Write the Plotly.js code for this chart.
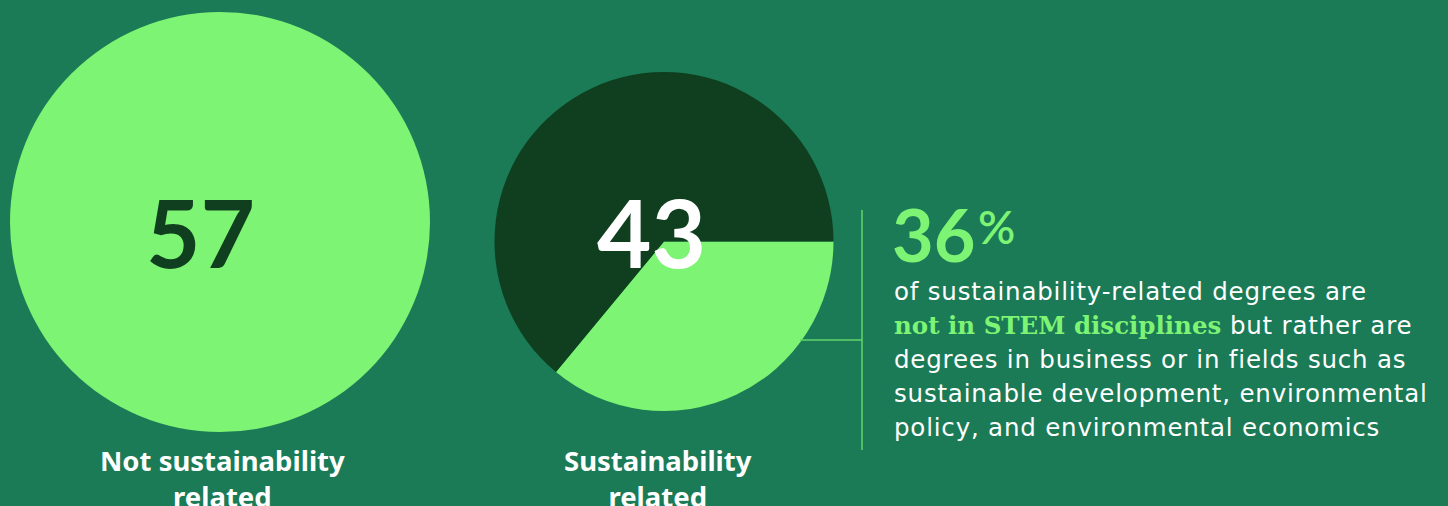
<!DOCTYPE html>
<html>
<head>
<meta charset="utf-8">
<script src="https://cdn.plot.ly/plotly-3.0.1.min.js"></script>
<style>html,body{margin:0;padding:0;background:#1a7b56;}#chart{width:1448px;height:506px;}</style>
</head>
<body>
<div id="chart"></div>
<script>
// ---- data ----
const categories = ["Not sustainability related", "Sustainability related"];
const categoryLabels = [["Not sustainability", "related"], ["Sustainability", "related"]];
const shares = [57, 43];
const splitLabels = ["Not in STEM disciplines", "STEM disciplines"];
const splitValues = [36, 64];
const headline = "36";
const bodyLines = [
  "of sustainability-related degrees are",
  null,
  "degrees in business or in fields such as",
  "sustainable development, environmental",
  "policy, and environmental economics"
];
const highlightText = "not in STEM disciplines";
const highlightRest = " but rather are";

// ---- styles ----
const BG = "#1a7b56", LIGHT = "#7ef474", DARK = "#0f3f1e";
const W = 1448, H = 506;
const px = x => x / W, py = y => 1 - y / H;
const SANS = "Lato, 'Noto Sans', sans-serif";
const BODY = "'DejaVu Sans', sans-serif";
const LABEL = "'Noto Sans', sans-serif";
const SPACED = s => "<span style=\"letter-spacing:0.8px\">" + s + "</span>";

const traces = [
  {
    type: "pie", values: [shares[0]], labels: [categories[0]],
    marker: {colors: [LIGHT], line: {width: 0}},
    textinfo: "none", hoverinfo: "none", sort: false,
    domain: {x: [px(10), px(430)], y: [py(432), py(12)]},
    showlegend: false
  },
  {
    type: "pie", values: splitValues, labels: splitLabels,
    marker: {colors: [LIGHT, DARK], line: {width: 0}},
    textinfo: "none", hoverinfo: "none", sort: false,
    direction: "clockwise", rotation: 90,
    domain: {x: [px(494), px(834)], y: [py(411), py(72)]},
    showlegend: false
  }
];

const ann = [];
ann.push({x: px(200), y: py(231), text: "<b>" + shares[0] + "</b>", font: {family: SANS, size: 94, color: DARK}});
ann.push({x: px(651), y: py(231), text: "<b>" + shares[1] + "</b>", font: {family: SANS, size: 94, color: "#ffffff"}});
const labelX = [222, 658];
categoryLabels.forEach((lines, i) => {
  ann.push({x: px(labelX[i]), y: py(478), text: "<b>" + lines.join("<br>") + "</b>", font: {family: LABEL, size: 27.5, color: "#ffffff"}});
});
ann.push({x: px(890), y: py(234), xanchor: "left", text: "<b>" + headline + "</b>", font: {family: SANS, size: 72, color: LIGHT}});
ann.push({x: px(976), y: py(226), xanchor: "left", text: "%", font: {family: SANS, size: 46, color: LIGHT, weight: 600}});
const lineY = [291, 325, 359, 393, 427];
bodyLines.forEach((t, i) => {
  let txt;
  if (t === null) {
    txt = "<span style=\"font-family:'DejaVu Serif',serif;font-weight:bold;font-size:24.5px;fill:" + LIGHT + "\">" + highlightText + "</span>" + SPACED(highlightRest);
  } else {
    txt = SPACED(t);
  }
  ann.push({x: px(892), y: py(lineY[i]), xanchor: "left", text: txt, font: {family: BODY, size: 24.5, color: "#ffffff"}});
});
ann.forEach(a => { a.xref = "paper"; a.yref = "paper"; a.showarrow = false; if (!a.xanchor) a.xanchor = "center"; a.yanchor = "middle"; });

const shapes = [
  {type: "line", xref: "paper", yref: "paper", x0: px(862), x1: px(862), y0: py(210), y1: py(450), line: {color: "#63d46a", width: 1.5}},
  {type: "line", xref: "paper", yref: "paper", x0: px(800), x1: px(862), y0: py(340), y1: py(340), line: {color: "#63d46a", width: 1.5}}
];

Plotly.newPlot("chart", traces, {
  width: W, height: H, margin: {l: 0, r: 0, t: 0, b: 0},
  paper_bgcolor: BG, plot_bgcolor: BG,
  annotations: ann, shapes: shapes, showlegend: false
}, {displayModeBar: false, staticPlot: true});
</script>
</body>
</html>
